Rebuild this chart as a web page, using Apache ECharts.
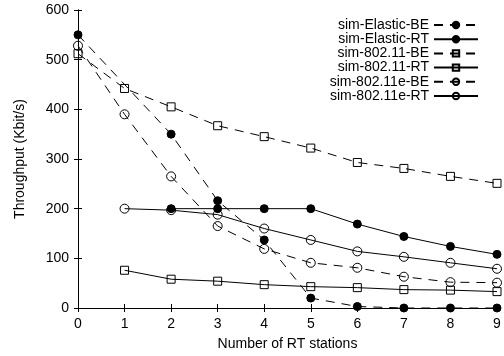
<!DOCTYPE html>
<html>
<head>
<meta charset="utf-8">
<script src="https://cdn.jsdelivr.net/npm/echarts@6/dist/echarts.min.js"></script>
<style>
html,body{margin:0;padding:0;background:#fff;}
#chart{width:504px;height:356px;}
</style>
</head>
<body>
<div id="chart"></div>
<script>
const xValues = [0, 1, 2, 3, 4, 5, 6, 7, 8, 9];
const elasticBE = [550, null, 350, 216, 137, 20, 3, 0, 0, 0];
const elasticRT = [null, null, 200, 200, 200, 200, 169, 144, 124, 108];
const w80211BE = [512, 442, 405, 367, 345, 322, 293, 281, 265, 251];
const w80211RT = [null, 76, 58, 54, 47, 43, 41, 37, 36, 33];
const w80211eBE = [528, 390, 265, 165, 119, 91, 81, 63, 52, 51];
const w80211eRT = [null, 200, 197, 188, 160, 137, 114, 103, 91, 79];
const seriesNames = ['sim-Elastic-BE', 'sim-Elastic-RT', 'sim-802.11-BE', 'sim-802.11-RT', 'sim-802.11e-BE', 'sim-802.11e-RT'];

const FONT = "'Liberation Sans', Arial, Helvetica, sans-serif";
const DASH = [9, 7];

function pts(vals) {
  const out = [];
  xValues.forEach((x, i) => { if (vals[i] !== null) out.push([x, vals[i]]); });
  return out;
}

function mk(name, vals, symbol, filled, dashed, size) {
  return {
    name: name,
    type: 'line',
    data: pts(vals),
    symbol: symbol,
    symbolSize: size,
    showAllSymbol: true,
    lineStyle: { color: '#000', width: 1, type: dashed ? DASH : 'solid' },
    itemStyle: { color: filled ? '#000' : 'transparent', borderColor: '#000', borderWidth: 1 },
    emphasis: { disabled: true },
    animation: false,
    z: 3
  };
}

const chart = echarts.init(document.getElementById('chart'), null, { renderer: 'canvas' });
chart.setOption({
  backgroundColor: '#fff',
  animation: false,
  textStyle: { fontFamily: FONT },
  grid: { left: 78, right: 7, top: 10, bottom: 44 },
  legend: {
    orient: 'vertical',
    right: 25,
    top: 18,
    align: 'right',
    itemWidth: 44,
    itemHeight: 8,
    itemGap: 0.2,
    padding: 0,
    data: seriesNames,
    textStyle: { fontFamily: FONT, fontSize: 14, color: '#000' },
    selectedMode: false
  },
  xAxis: [{
    type: 'value', min: 0, max: 9, interval: 1,
    name: 'Number of RT stations', nameLocation: 'middle', nameGap: 29,
    nameTextStyle: { fontFamily: FONT, fontSize: 14, color: '#000' },
    axisLine: { show: true, lineStyle: { color: '#000', width: 1 } },
    axisTick: { show: true, inside: true, length: 4, lineStyle: { color: '#000' } },
    axisLabel: { fontFamily: FONT, fontSize: 14, color: '#000', margin: 9 },
    splitLine: { show: false }
  }, {
    type: 'value', min: 0, max: 9, interval: 1, position: 'top',
    axisLine: { show: true, lineStyle: { color: '#000', width: 1 } },
    axisTick: { show: true, inside: true, length: 4, lineStyle: { color: '#000' } },
    axisLabel: { show: false },
    splitLine: { show: false }
  }],
  yAxis: [{
    type: 'value', min: 0, max: 600, interval: 100,
    name: 'Throughput (Kbit/s)', nameLocation: 'middle', nameGap: 51,
    nameTextStyle: { fontFamily: FONT, fontSize: 14, color: '#000' },
    axisLine: { show: true, lineStyle: { color: '#000', width: 1 } },
    axisTick: { show: true, inside: true, length: 4, lineStyle: { color: '#000' } },
    axisLabel: { fontFamily: FONT, fontSize: 14, color: '#000', margin: 9 },
    splitLine: { show: false }
  }, {
    type: 'value', min: 0, max: 600, interval: 100, position: 'right',
    axisLine: { show: true, lineStyle: { color: '#000', width: 1 } },
    axisTick: { show: true, inside: true, length: 4, lineStyle: { color: '#000' } },
    axisLabel: { show: false },
    splitLine: { show: false }
  }],
  series: [
    mk(seriesNames[0], elasticBE, 'circle', true, true, 8),
    mk(seriesNames[1], elasticRT, 'circle', true, false, 8),
    mk(seriesNames[2], w80211BE, 'rect', false, true, 8),
    mk(seriesNames[3], w80211RT, 'rect', false, false, 8),
    mk(seriesNames[4], w80211eBE, 'circle', false, true, 9),
    mk(seriesNames[5], w80211eRT, 'circle', false, false, 9)
  ]
});
</script>
</body>
</html>
